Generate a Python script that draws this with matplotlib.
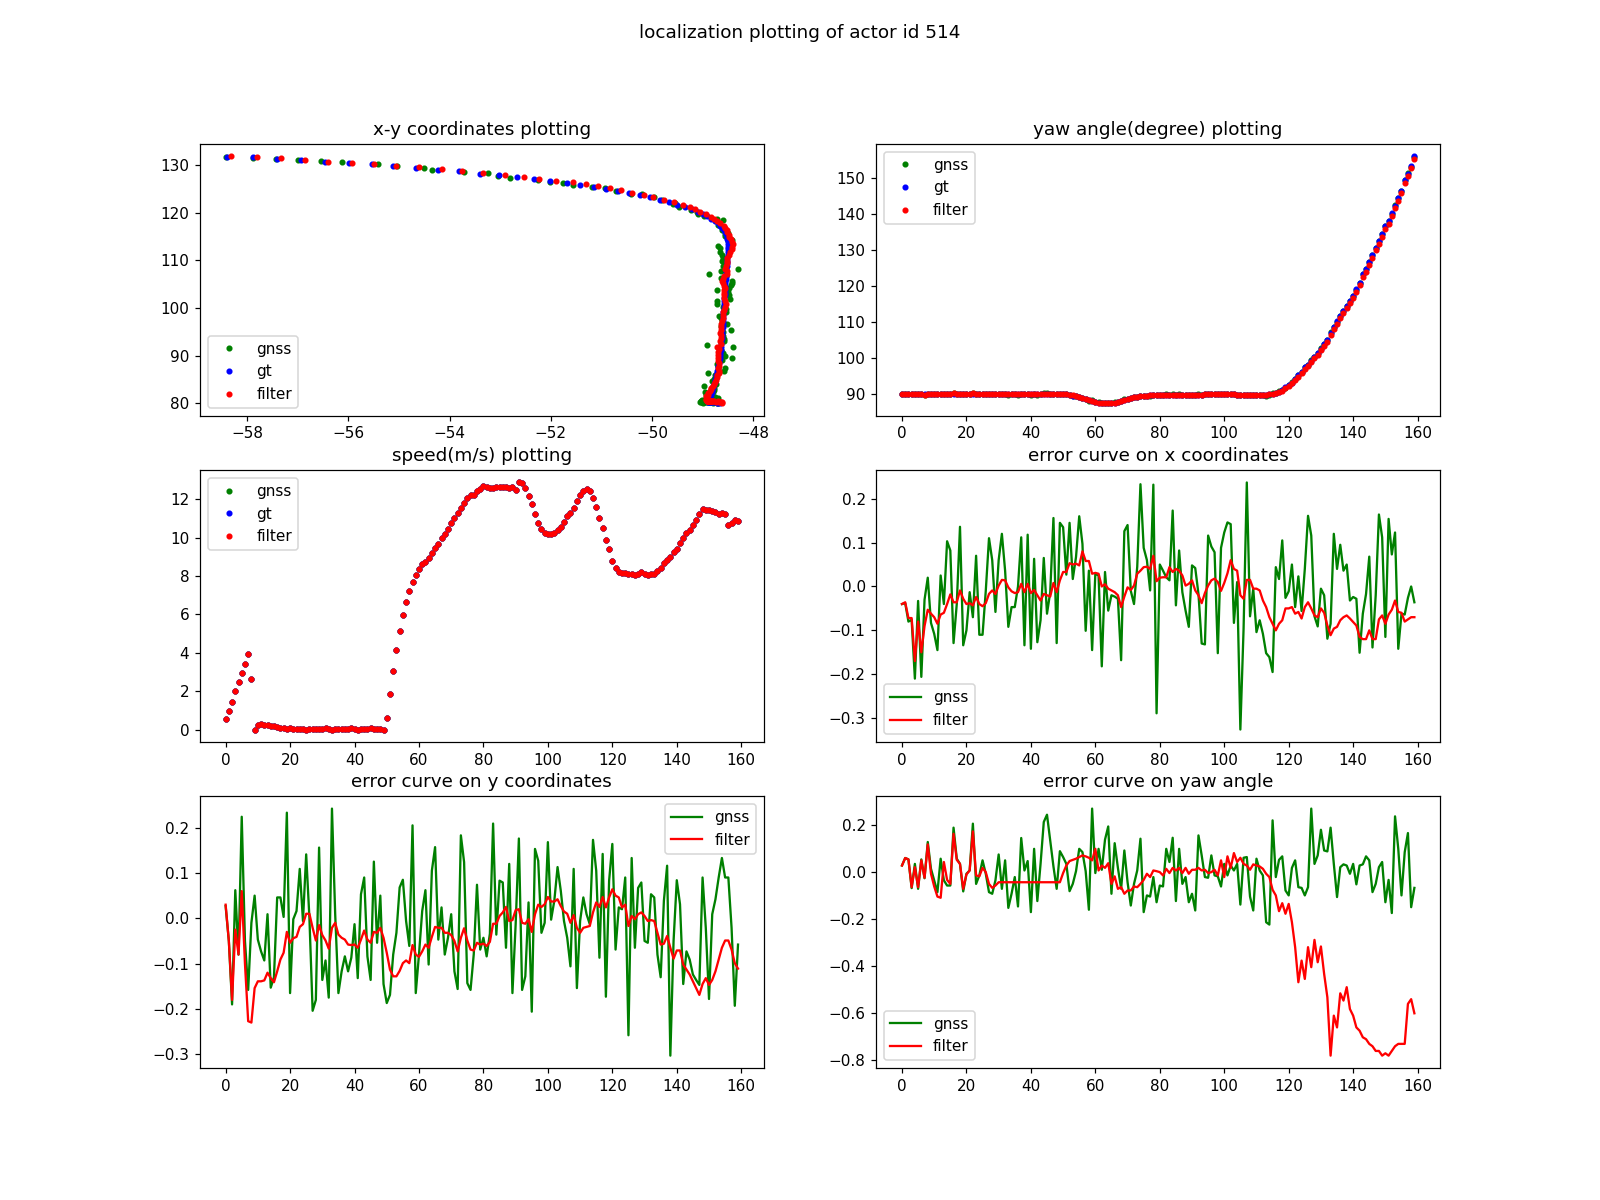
import numpy as np
import matplotlib
matplotlib.use('Agg')
import matplotlib.pyplot as plt

actor_id = 514

# ground truth speed (m/s), one sample per frame
speed = [0.56, 0.99, 1.45, 2.0, 2.5, 2.93, 3.44, 3.93, 2.64, 0.0,
         0.26, 0.28, 0.24, 0.22, 0.2, 0.16, 0.12, 0.09, 0.07, 0.05,
         0.06, 0.03, 0.05, 0.02, 0.04, 0.0, 0.03, 0.05, 0.01, 0.03,
         0.02, 0.06, 0.02, 0.0, 0.04, 0.01, 0.05, 0.02, 0.03, 0.06,
         0.01, 0.0, 0.03, 0.02, 0.04, 0.06, 0.02, 0.05, 0.04, 0.0,
         0.58, 1.83, 3.05, 4.14, 5.15, 5.97, 6.63, 7.2, 7.7, 8.08,
         8.38, 8.64, 8.74, 8.94, 9.2, 9.48, 9.69, 10.0, 10.2, 10.47,
         10.79, 11.03, 11.29, 11.55, 11.83, 12.08, 12.22, 12.22, 12.44, 12.53,
         12.69, 12.62, 12.6, 12.58, 12.62, 12.64, 12.62, 12.65, 12.57, 12.65,
         12.48, 12.88, 12.84, 12.6, 12.2, 11.75, 11.22, 10.77, 10.45, 10.26,
         10.19, 10.17, 10.24, 10.38, 10.56, 10.82, 11.13, 11.31, 11.57, 11.9,
         12.22, 12.43, 12.53, 12.43, 12.09, 11.6, 11.05, 10.51, 9.9, 9.39,
         8.81, 8.43, 8.2, 8.15, 8.15, 8.12, 8.13, 8.08, 8.11, 8.22,
         8.1, 8.08, 8.1, 8.12, 8.24, 8.43, 8.67, 8.85, 8.99, 9.28,
         9.42, 9.72, 9.97, 10.24, 10.38, 10.65, 10.94, 11.22, 11.48, 11.47,
         11.43, 11.4, 11.34, 11.26, 11.29, 11.26, 10.65, 10.77, 10.94, 10.89]

# ground truth yaw (degree)
yaw = ([90.0, 90.0, 89.9, 90.0, 90.0, 90.0, 90.0, 89.9, 90.0, 90.0] +
       [90.0] * 40 +
       [90.0, 89.9, 89.8, 89.6, 89.4, 89.2, 88.9, 88.6, 88.3, 88.0,
        87.8, 87.6, 87.5, 87.4, 87.4, 87.5, 87.6, 87.8, 88.1, 88.4,
        88.7, 89.0, 89.2, 89.3, 89.4, 89.5, 89.6, 89.7, 89.8, 89.8,
        89.8, 89.8, 89.8, 89.8, 89.8, 89.8, 89.8, 89.8, 89.8, 89.8,
        89.8, 89.8, 89.8, 89.8, 89.9, 90.0, 90.0, 90.0, 90.0, 90.0,
        90.0, 90.0, 90.0, 89.9, 89.8, 89.8, 89.8, 89.8, 89.8, 89.8,
        89.8, 89.8, 89.8, 89.8, 89.9, 90.0, 90.3, 90.7, 91.1, 91.9,
        92.5, 93.2, 94.1, 95.3, 96.2, 97.5, 98.1, 99.3, 100.4, 101.3,
        102.5, 103.9, 105.0, 107.1, 108.6, 110.2, 111.6, 113.0, 114.4, 115.8,
        117.2, 119.1, 120.9, 123.3, 124.7, 126.7, 128.7, 130.7, 132.6, 134.5,
        136.8, 138.2, 140.3, 142.4, 144.4, 146.6, 149.4, 151.3, 153.4, 156.1])

# ground truth position
gt_x = ([-48.66, -48.69, -48.72, -48.75, -48.78, -48.81, -48.84, -48.86, -48.88, -48.89] +
        [-48.89] * 40 +
        [-48.89, -48.89, -48.88, -48.88, -48.87, -48.86, -48.85, -48.84, -48.83, -48.82,
         -48.81, -48.8, -48.79, -48.78, -48.76, -48.75, -48.74, -48.73, -48.72, -48.71,
         -48.7, -48.69, -48.68, -48.67, -48.66, -48.65, -48.65, -48.64, -48.64, -48.63,
         -48.63, -48.62, -48.62, -48.61, -48.61, -48.6, -48.6, -48.6, -48.59, -48.59,
         -48.59, -48.58, -48.58, -48.58, -48.58, -48.58, -48.57, -48.57, -48.57, -48.57,
         -48.57, -48.56, -48.56, -48.55, -48.55, -48.55, -48.54, -48.54, -48.53, -48.53,
         -48.52, -48.52, -48.51, -48.51, -48.5, -48.5, -48.5, -48.51, -48.52, -48.53,
         -48.54, -48.56, -48.58, -48.61, -48.65, -48.7, -48.76, -48.83, -48.91, -49.0,
         -49.1, -49.22, -49.35, -49.5, -49.67, -49.85, -50.05, -50.24, -50.46, -50.68,
         -50.91, -51.15, -51.42, -51.69, -52.01, -52.33, -52.66, -53.03, -53.41, -53.82,
         -54.23, -54.67, -55.12, -55.53, -55.99, -56.47, -56.93, -57.41, -57.88, -58.39])

gt_y = ([80.15, 80.17, 80.2, 80.24, 80.28, 80.31, 80.34, 80.37, 80.39, 80.4,
         80.41, 80.42, 80.43, 80.43, 80.44, 80.44, 80.45, 80.45, 80.45, 80.45] +
        [80.45] * 30 +
        [80.45, 80.48, 80.57, 80.71, 80.91, 81.16, 81.45, 81.76, 82.11, 82.47,
         82.87, 83.27, 83.68, 84.11, 84.53, 84.97, 85.43, 85.89, 86.37, 86.86,
         87.37, 87.89, 88.42, 88.95, 89.51, 90.08, 90.66, 91.25, 91.84, 92.43,
         93.04, 93.64, 94.25, 94.85, 95.46, 96.06, 96.67, 97.28, 97.88, 98.49,
         99.09, 99.69, 100.31, 100.93, 101.53, 102.12, 102.68, 103.22, 103.74, 104.24,
         104.73, 105.22, 105.71, 106.2, 106.7, 107.21, 107.73, 108.27, 108.81, 109.36,
         109.94, 110.53, 111.12, 111.73, 112.32, 112.9, 113.46, 113.97, 114.46, 114.95,
         115.43, 115.9, 116.37, 116.84, 117.31, 117.78, 118.25, 118.72, 119.2, 119.7,
         120.2, 120.7, 121.2, 121.7, 122.2, 122.7, 123.2, 123.75, 124.15, 124.6,
         125.0, 125.45, 125.9, 126.25, 126.6, 127.0, 127.4, 127.8, 128.2, 128.65,
         129.05, 129.45, 129.75, 130.2, 130.4, 130.65, 131.05, 131.3, 131.6, 131.7])

# error on x
gnss_err_x = [-0.04, -0.038, -0.08, -0.076, -0.21, -0.033, -0.206, -0.03, 0.02, -0.083,
              -0.108, -0.145, 0.025, -0.04, 0.103, 0.082, -0.129, -0.04, 0.136, -0.134,
              -0.10, -0.013, -0.07, 0.07, -0.11, -0.11, -0.01, 0.11, 0.06, -0.058,
              0.06, 0.12, 0.036, -0.092, -0.047, -0.047, 0.0, 0.112, -0.134, 0.118,
              -0.142, 0.063, -0.127, -0.077, 0.065, -0.062, -0.013, 0.156, -0.129, 0.145,
              0.135, 0.027, 0.145, 0.017, 0.067, 0.16, 0.097, -0.101, 0.036, -0.145,
              0.029, 0.025, -0.182, 0.033, -0.055, -0.02, -0.023, -0.028, -0.168, 0.126,
              0.14, -0.01, -0.04, 0.045, 0.233, 0.088, 0.06, -0.009, 0.232, -0.289,
              0.05, 0.036, 0.021, 0.014, 0.173, -0.043, 0.082, -0.013, -0.055, -0.092,
              0.048, 0.042, -0.017, -0.13, -0.132, 0.116, 0.091, 0.078, -0.152, 0.088,
              0.123, 0.146, 0.142, -0.083, 0.01, -0.326, -0.096, 0.237, -0.068, -0.005,
              -0.104, -0.077, -0.108, -0.152, -0.161, -0.195, 0.044, 0.017, 0.105, -0.026,
              -0.011, 0.05, -0.047, 0.023, -0.056, 0.04, 0.161, 0.116, -0.068, -0.091,
              -0.005, -0.02, -0.119, -0.085, 0.12, 0.04, 0.095, 0.036, 0.05, -0.032,
              -0.024, -0.028, -0.151, -0.062, -0.017, 0.068, -0.139, -0.02, 0.164, 0.112,
              -0.115, 0.154, 0.073, 0.123, -0.142, -0.062, -0.064, -0.026, 0.0, -0.036]
filter_err_x = [-0.04, -0.036, -0.072, -0.072, -0.17, -0.08, -0.15, -0.09, -0.053, -0.062,
                -0.07, -0.085, -0.064, -0.06, -0.04, -0.018, -0.036, -0.036, -0.009, -0.028,
                -0.04, -0.038, -0.043, -0.024, -0.04, -0.045, -0.038, -0.017, -0.009, -0.017,
                0.002, 0.015, 0.014, -0.002, -0.011, -0.015, -0.013, 0.006, -0.013, 0.006,
                -0.015, -0.008, -0.02, -0.032, -0.017, -0.02, -0.023, 0.008, -0.013, 0.014,
                0.033, 0.033, 0.053, 0.05, 0.052, 0.048, 0.08, 0.058, 0.058, 0.029,
                0.031, 0.029, 0.0, 0.005, -0.005, -0.009, -0.013, -0.02, -0.047, -0.023,
                -0.002, -0.008, 0.002, 0.029, 0.036, 0.044, 0.045, 0.04, 0.07, 0.012,
                0.02, 0.021, 0.021, 0.044, 0.033, 0.04, 0.036, 0.025, 0.002, 0.006,
                0.014, -0.009, -0.02, -0.038, -0.015, 0.002, 0.014, 0.018, 0.01, -0.01,
                0.008, 0.03, 0.06, 0.04, 0.036, -0.02, -0.028, 0.015, 0.015, -0.005,
                -0.005, -0.009, -0.032, -0.047, -0.07, -0.085, -0.1, -0.085, -0.077, -0.05,
                -0.05, -0.047, -0.062, -0.058, -0.073, -0.047, -0.036, -0.05, -0.066, -0.07,
                -0.05, -0.06, -0.089, -0.111, -0.096, -0.092, -0.077, -0.07, -0.066, -0.073,
                -0.081, -0.089, -0.115, -0.12, -0.12, -0.1, -0.12, -0.12, -0.075, -0.066,
                -0.085, -0.064, -0.053, -0.032, -0.058, -0.06, -0.08, -0.075, -0.07, -0.07]

# error on y
gnss_err_y = [0.027, -0.05, -0.19, 0.062, -0.08, 0.224, -0.05, -0.158, -0.01, 0.05,
              -0.047, -0.073, -0.093, 0.009, -0.153, -0.13, 0.046, 0.046, 0.003, 0.233,
              -0.165, -0.002, 0.016, 0.109, -0.006, 0.141, 0.001, -0.204, -0.18, 0.156,
              -0.136, -0.093, -0.175, 0.242, 0.009, -0.165, -0.117, -0.084, -0.117, -0.087,
              -0.013, -0.132, 0.053, 0.09, -0.084, -0.136, 0.125, -0.054, 0.05, -0.145,
              -0.187, -0.169, -0.08, -0.032, 0.068, 0.085, -0.006, -0.061, 0.205, -0.165,
              -0.08, 0.016, 0.062, -0.102, 0.105, 0.157, -0.047, 0.024, -0.08, -0.043,
              0.009, -0.117, -0.156, 0.183, 0.124, -0.143, -0.158, -0.079, 0.074, -0.069,
              -0.043, -0.084, -0.034, 0.209, -0.036, 0.083, 0.079, -0.065, 0.12, -0.165,
              -0.013, 0.176, -0.158, -0.128, 0.035, -0.206, 0.153, 0.127, -0.032, -0.01,
              0.168, -0.003, 0.039, 0.113, 0.061, -0.006, -0.043, -0.106, 0.109, -0.154,
              -0.006, 0.046, 0.009, -0.013, 0.173, 0.105, -0.087, 0.142, -0.173, 0.083,
              0.164, -0.069, 0.024, 0.02, 0.09, -0.258, 0.133, -0.065, 0.067, 0.079,
              -0.05, -0.054, 0.053, 0.046, -0.08, -0.13, 0.039, 0.116, -0.303, -0.05,
              0.084, 0.031, -0.145, -0.073, -0.091, -0.124, -0.136, -0.147, 0.09, -0.021,
              -0.178, 0.009, 0.042, 0.09, 0.133, 0.09, 0.09, -0.021, -0.193, -0.058]
filter_err_y = [0.03, -0.05, -0.18, -0.025, -0.08, 0.06, -0.1, -0.227, -0.23, -0.154,
                -0.139, -0.139, -0.137, -0.12, -0.132, -0.141, -0.117, -0.091, -0.076, -0.03,
                -0.054, -0.044, -0.041, -0.019, -0.013, 0.01, 0.01, -0.021, -0.049, -0.015,
                -0.037, -0.049, -0.067, -0.021, -0.01, -0.036, -0.043, -0.047, -0.058, -0.059,
                -0.058, -0.065, -0.047, -0.027, -0.047, -0.054, -0.03, -0.032, -0.021, -0.043,
                -0.076, -0.113, -0.128, -0.128, -0.116, -0.099, -0.093, -0.099, -0.059, -0.08,
                -0.085, -0.073, -0.058, -0.065, -0.041, -0.019, -0.021, -0.021, -0.032, -0.032,
                -0.037, -0.05, -0.073, -0.043, -0.022, -0.049, -0.069, -0.071, -0.054, -0.058,
                -0.056, -0.061, -0.052, -0.012, -0.012, 0.005, 0.013, 0.025, -0.006, -0.004,
                0.018, 0.02, -0.01, -0.012, -0.002, -0.03, 0.009, 0.03, 0.025, 0.031,
                0.047, 0.037, 0.037, 0.042, 0.027, 0.015, 0.01, -0.01, 0.007, -0.021,
                -0.032, -0.021, -0.019, -0.017, 0.013, 0.035, 0.025, 0.047, 0.024, 0.046,
                0.064, 0.05, 0.046, 0.024, 0.03, -0.017, 0.005, -0.002, 0.009, 0.013,
                0.005, -0.006, -0.004, -0.006, -0.032, -0.058, -0.056, -0.039, -0.065, -0.089,
                -0.071, -0.071, -0.102, -0.113, -0.124, -0.139, -0.154, -0.169, -0.145, -0.132,
                -0.147, -0.136, -0.117, -0.091, -0.065, -0.049, -0.049, -0.069, -0.099, -0.111]

# error on yaw
gnss_err_yaw = [0.028, 0.06, 0.054, -0.068, 0.035, -0.071, 0.054, -0.026, 0.128, 0.014,
                -0.035, -0.085, 0.057, -0.035, -0.057, -0.057, 0.189, 0.057, 0.035, -0.082,
                -0.007, 0.007, 0.206, -0.05, -0.014, 0.05, -0.007, -0.085, -0.092, -0.035,
                0.075, -0.071, 0.05, -0.152, -0.092, -0.021, -0.146, 0.145, 0.007, 0.047,
                -0.17, 0.099, -0.123, 0.035, 0.213, 0.244, 0.135, 0.024, -0.071, 0.089,
                0.064, 0.035, -0.081, -0.05, 0.004, 0.099, 0.085, 0.004, -0.16, 0.27,
                -0.004, 0.099, 0.01, 0.138, 0.194, -0.092, 0.123, 0.018, -0.071, 0.092,
                -0.043, -0.142, -0.05, 0.007, 0.142, -0.17, -0.099, -0.104, -0.021, -0.128,
                -0.057, -0.061, 0.099, 0.043, 0.146, -0.123, 0.099, -0.05, -0.021, -0.128,
                -0.092, -0.163, 0.156, 0.071, -0.021, -0.024, 0.071, -0.014, -0.018, -0.061,
                0.035, -0.014, 0.028, 0.007, 0.035, -0.138, 0.061, 0.064, -0.104, -0.163,
                0.057, 0.007, -0.014, -0.213, -0.223, 0.22, -0.021, 0.052, 0.067, -0.078,
                -0.099, 0.018, 0.05, -0.064, -0.067, -0.099, -0.064, 0.27, 0.035, 0.071,
                0.18, 0.092, 0.088, 0.189, 0.035, -0.106, 0.021, 0.033, 0.028, -0.007,
                0.035, -0.052, 0.028, 0.033, 0.067, 0.05, -0.085, -0.05, 0.021, 0.043,
                -0.128, -0.033, -0.174, 0.237, 0.099, -0.099, 0.085, 0.166, -0.149, -0.067]
filter_err_yaw = ([0.028, 0.06, 0.054, -0.064, 0.021, -0.064, 0.05, -0.024, 0.118, -0.007,
                   -0.061, -0.104, -0.109, 0.043, -0.033, -0.05, 0.163, 0.052, 0.035, -0.071,
                   -0.01, 0.007, 0.173, -0.014, -0.018, 0.018, 0.0, -0.05, -0.067, -0.057] +
                  [-0.043] * 20 +
                  [-0.004, 0.028, 0.047, 0.052, 0.057, 0.064, 0.071, 0.067, 0.061, 0.05,
                   0.099, 0.007, 0.028, 0.018, 0.038, -0.05, -0.018, -0.071, -0.064, -0.092,
                   -0.078, -0.078, -0.061, -0.064, -0.05, -0.033, -0.007, -0.021, 0.007, 0.004,
                   0.0, -0.014, 0.014, -0.004, 0.018, 0.007, 0.018, -0.004, 0.018, -0.007,
                   0.01, 0.01, 0.018, 0.007, 0.01, -0.004, 0.0, 0.01, -0.014, 0.05,
                   -0.021, 0.067, 0.018, 0.081, 0.043, 0.061, 0.035, 0.028, 0.01, 0.033,
                   0.028, 0.024, 0.014, -0.007, -0.021, -0.075, -0.099, -0.166, -0.132, -0.177,
                   -0.135, -0.213, -0.319, -0.468, -0.376, -0.454, -0.319, -0.404, -0.288, -0.383,
                   -0.316, -0.433, -0.532, -0.78, -0.61, -0.66, -0.515, -0.546, -0.489, -0.582,
                   -0.61, -0.66, -0.674, -0.702, -0.71, -0.73, -0.74, -0.76, -0.76, -0.78,
                   -0.77, -0.78, -0.76, -0.74, -0.73, -0.73, -0.73, -0.56, -0.54, -0.6])

frames = np.arange(len(speed))
gt_x = np.array(gt_x)
gt_y = np.array(gt_y)
yaw = np.array(yaw)
speed = np.array(speed)

gnss_x = gt_x + np.array(gnss_err_x)
gnss_y = gt_y + np.array(gnss_err_y)
filter_x = gt_x - np.array(filter_err_x)
filter_y = gt_y - np.array(filter_err_y)
gnss_yaw = yaw + np.array(gnss_err_yaw)
filter_yaw = yaw + np.array(filter_err_yaw)

# reference looks rendered at ~110 dpi, keep the 1600x1200 canvas
fig, axs = plt.subplots(3, 2, figsize=(16 / 1.1, 12 / 1.1))
fig.suptitle('localization plotting of actor id %d' % actor_id)

ax = axs[0, 0]
ax.plot(gnss_x, gnss_y, 'g.', label='gnss')
ax.plot(gt_x, gt_y, 'b.', label='gt')
ax.plot(filter_x, filter_y, 'r.', label='filter')
ax.set_title('x-y coordinates plotting')
ax.legend(loc='lower left')

ax = axs[0, 1]
ax.plot(frames, gnss_yaw, 'g.', label='gnss')
ax.plot(frames, yaw, 'b.', label='gt')
ax.plot(frames, filter_yaw, 'r.', label='filter')
ax.set_title('yaw angle(degree) plotting')
ax.legend(loc='upper left')

ax = axs[1, 0]
ax.plot(frames, speed, 'g.', label='gnss')
ax.plot(frames, speed, 'b.', label='gt')
ax.plot(frames, speed, 'r.', label='filter')
ax.set_title('speed(m/s) plotting')
ax.legend(loc='upper left')

ax = axs[1, 1]
ax.plot(frames, gnss_err_x, 'g-', label='gnss')
ax.plot(frames, filter_err_x, 'r-', label='filter')
ax.set_title('error curve on x coordinates')
ax.legend(loc='lower left')

ax = axs[2, 0]
ax.plot(frames, gnss_err_y, 'g-', label='gnss')
ax.plot(frames, filter_err_y, 'r-', label='filter')
ax.set_title('error curve on y coordinates')
ax.legend(loc='upper right')

ax = axs[2, 1]
ax.plot(frames, gnss_err_yaw, 'g-', label='gnss')
ax.plot(frames, filter_err_yaw, 'r-', label='filter')
ax.set_title('error curve on yaw angle')
ax.legend(loc='lower left')

fig.savefig('out.png', dpi=110)
